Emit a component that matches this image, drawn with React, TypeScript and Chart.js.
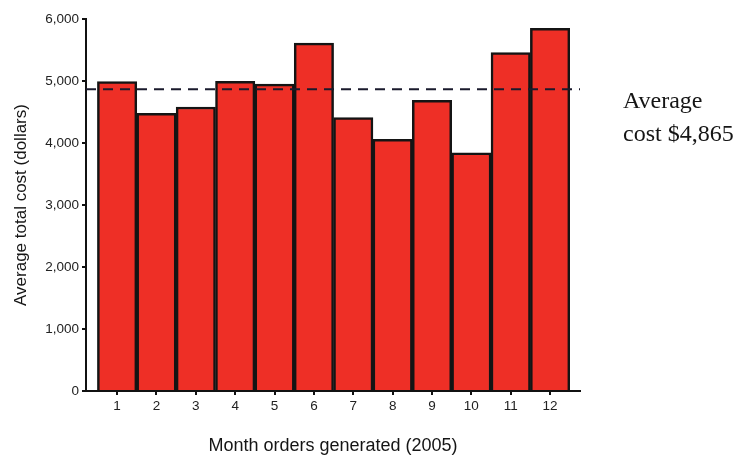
import React, { useEffect, useRef } from "react";
import { Chart, registerables } from "chart.js";

Chart.register(...registerables);

const months = [1, 2, 3, 4, 5, 6, 7, 8, 9, 10, 11, 12];
const costs = [4990, 4480, 4580, 4995, 4950, 5610, 4410, 4060, 4690, 3840, 5460, 5850];
const averageCost = 4865;
const yMin = 0;
const yMax = 6000;
const yStep = 1000;
const xMin = 0.21;
const xMax = 12.76;

const xTitle = "Month orders generated (2005)";
const yTitle = "Average total cost (dollars)";
const noteLine1 = "Average";
const noteLine2 = `cost $${averageCost.toLocaleString("en-US")}`;

const SANS = '"Liberation Sans", Arial, Helvetica, sans-serif';
const SERIF = '"Liberation Serif", "Times New Roman", serif';

const notePlugin = {
  id: "avgNote",
  afterDraw(chart: any) {
    const { ctx, chartArea, scales } = chart;
    const y = scales.y.getPixelForValue(averageCost);
    ctx.save();
    ctx.font = `24px ${SERIF}`;
    ctx.fillStyle = "#151515";
    ctx.textAlign = "left";
    ctx.textBaseline = "alphabetic";
    const x = chartArea.right + 43;
    ctx.fillText(noteLine1, x, y + 19);
    ctx.fillText(noteLine2, x, y + 52);
    ctx.restore();
  },
};

export default function App() {
  const ref = useRef<HTMLCanvasElement | null>(null);

  useEffect(() => {
    if (!ref.current) return;
    const chart = new Chart(ref.current, {
      type: "bar",
      data: {
        datasets: [
          {
            type: "line",
            data: [
              { x: xMin, y: averageCost },
              { x: xMax, y: averageCost },
            ],
            borderColor: "#1a1a2c",
            borderWidth: 2,
            borderDash: [10, 7],
            pointRadius: 0,
            fill: false,
            order: 0,
          } as any,
          {
            type: "bar",
            data: months.map((m, i) => ({ x: m, y: costs[i] })),
            backgroundColor: "#ee2f26",
            borderColor: "#141414",
            borderWidth: 2.5,
            barPercentage: 1,
            categoryPercentage: 1,
            order: 1,
          } as any,
        ],
      },
      options: {
        animation: false,
        responsive: true,
        maintainAspectRatio: false,
        layout: { padding: { left: 0, top: 19, right: 163, bottom: 0 } },
        plugins: {
          legend: { display: false },
          tooltip: { enabled: false },
          title: { display: false },
        },
        scales: {
          x: {
            type: "linear",
            min: xMin,
            max: xMax,
            offset: false,
            afterBuildTicks: (s: any) => {
              s.ticks = months.map((v) => ({ value: v }));
            },
            afterFit: (s: any) => {
              s.height = 66;
            },
            ticks: {
              callback: (v: any) => String(v),
              font: { size: 13.5, family: SANS },
              color: "#222",
              padding: 3,
              maxRotation: 0,
              autoSkip: false,
            },
            grid: {
              display: true,
              offset: false,
              drawOnChartArea: false,
              drawTicks: true,
              tickLength: 4,
              color: "#111",
              lineWidth: 2,
            },
            border: { display: true, color: "#111", width: 2 },
            title: {
              display: true,
              text: xTitle,
              font: { size: 18, family: SANS },
              color: "#151515",
              padding: { top: 0, bottom: 0 },
            },
          },
          y: {
            type: "linear",
            min: yMin,
            max: yMax,
            afterFit: (s: any) => {
              s.width = 86;
            },
            ticks: {
              stepSize: yStep,
              callback: (v: any) => Number(v).toLocaleString("en-US"),
              font: { size: 13.5, family: SANS },
              color: "#222",
              padding: 3,
            },
            grid: {
              display: true,
              drawOnChartArea: false,
              drawTicks: true,
              tickLength: 4,
              color: "#111",
              lineWidth: 2,
            },
            border: { display: true, color: "#111", width: 2 },
            title: {
              display: true,
              text: yTitle,
              font: { size: 17, family: SANS },
              color: "#151515",
              padding: { top: 11, bottom: 0 },
            },
          },
        },
      },
      plugins: [notePlugin],
    });
    return () => chart.destroy();
  }, []);

  return (
    <div
      style={{
        position: "fixed",
        left: 0,
        top: 0,
        width: 743,
        height: 457,
        background: "#fff",
      }}
    >
      <canvas ref={ref} />
    </div>
  );
}
